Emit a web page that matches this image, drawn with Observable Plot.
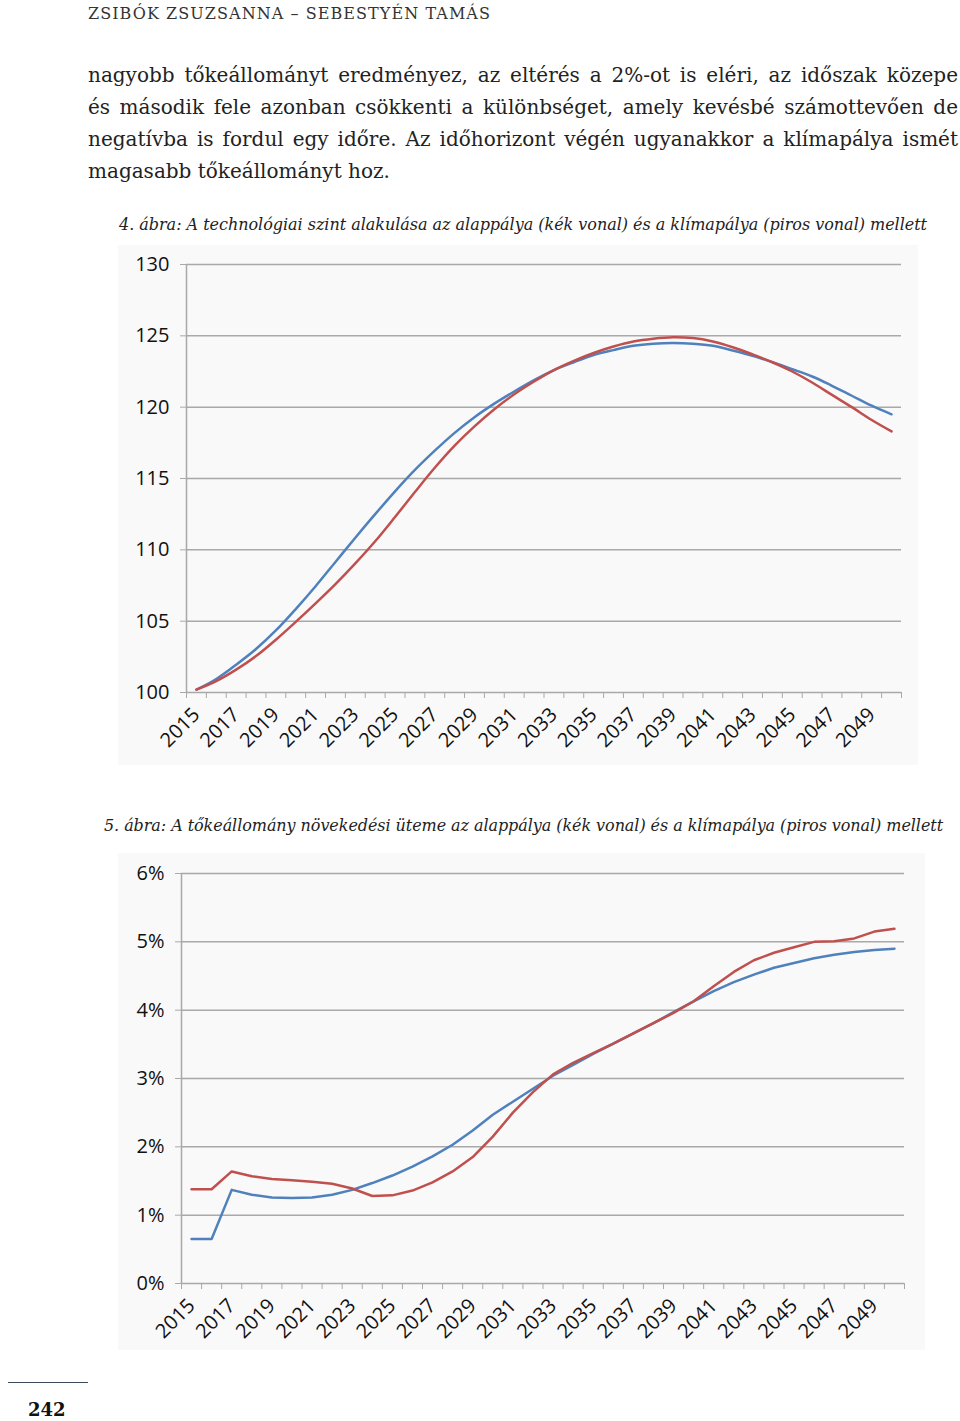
<!DOCTYPE html>
<html>
<head>
<meta charset="utf-8">
<script src="https://cdn.jsdelivr.net/npm/d3@7"></script>
<script src="https://cdn.jsdelivr.net/npm/@observablehq/plot@0.6"></script>
<style>
  html, body { margin: 0; padding: 0; background: #fff; }
  body { position: relative; width: 960px; height: 1421px; overflow: hidden; font-family: "DejaVu Serif", serif; color: #222; }
  .abs { position: absolute; white-space: nowrap; }
  .header { left: 88px; top: 4px; font-size: 16px; line-height: 20px; letter-spacing: 0.8px; color: #333; }
  .body { left: 88px; font-size: 20px; line-height: 32px; color: #222; }
  .cap { font-size: 16px; font-style: italic; line-height: 20px; color: #222; }
  .chart { position: absolute; }
  .pgline { position: absolute; left: 8px; top: 1382px; width: 80px; height: 0; border-top: 1.5px solid #3d4a5c; }
  .pgnum { position: absolute; left: 28px; top: 1399px; font-size: 18px; font-weight: bold; line-height: 22px; color: #111; }
</style>
</head>
<body>
<div class="abs header" id="hdr">ZSIBÓK ZSUZSANNA – SEBESTYÉN TAMÁS</div>
<div class="abs body fitw" data-w="870" style="top:59px">nagyobb tőkeállományt eredményez, az eltérés a 2%-ot is eléri, az időszak közepe</div>
<div class="abs body fitw" data-w="870" style="top:91px">és második fele azonban csökkenti a különbséget, amely kevésbé számottevően de</div>
<div class="abs body fitw" data-w="870" style="top:123px">negatívba is fordul egy időre. Az időhorizont végén ugyanakkor a klímapálya ismét</div>
<div class="abs body" style="top:155px">magasabb tőkeállományt hoz.</div>
<div class="abs cap fitl" data-w="808" style="left:119px; top:215px">4. ábra: A technológiai szint alakulása az alappálya (kék vonal) és a klímapálya (piros vonal) mellett</div>
<div class="chart" id="c1" style="left:118px; top:245px"></div>
<div class="abs cap fitl" data-w="839" style="left:104px; top:816px">5. ábra: A tőkeállomány növekedési üteme az alappálya (kék vonal) és a klímapálya (piros vonal) mellett</div>
<div class="chart" id="c2" style="left:118px; top:853px"></div>
<div class="pgline"></div>
<div class="pgnum">242</div>
<script>
// ---- data ----
const years = [2015,2016,2017,2018,2019,2020,2021,2022,2023,2024,2025,2026,2027,2028,2029,2030,2031,2032,
               2033,2034,2035,2036,2037,2038,2039,2040,2041,2042,2043,2044,2045,2046,2047,2048,2049,2050];
const yearLabels = [2015,2017,2019,2021,2023,2025,2027,2029,2031,2033,2035,2037,2039,2041,2043,2045,2047,2049];

// 4. ábra: technológiai szint
const techBase = [100.2,100.95,101.95,103.05,104.35,105.85,107.45,109.15,110.85,112.5,114.1,115.6,116.95,118.2,119.3,120.25,121.1,121.9,
                  122.6,123.15,123.65,124.0,124.3,124.45,124.5,124.45,124.3,123.97,123.6,123.15,122.66,122.15,121.5,120.8,120.1,119.5];
const techClimate = [100.2,100.8,101.6,102.55,103.7,104.95,106.25,107.6,109.05,110.6,112.3,114.05,115.75,117.3,118.65,119.85,120.9,121.8,
                     122.6,123.25,123.8,124.25,124.6,124.8,124.9,124.84,124.6,124.2,123.7,123.15,122.5,121.73,120.86,120.0,119.1,118.3];
const techTicks = [100,105,110,115,120,125,130];

// 5. ábra: tőkeállomány növekedési üteme (%)
const growthBase = [0.65,0.65,1.37,1.30,1.26,1.25,1.26,1.30,1.37,1.47,1.58,1.71,1.86,2.03,2.24,2.47,2.66,2.85,
                    3.04,3.20,3.36,3.51,3.66,3.81,3.97,4.13,4.28,4.41,4.52,4.62,4.69,4.76,4.81,4.85,4.88,4.90];
const growthClimate = [1.38,1.38,1.64,1.57,1.53,1.51,1.49,1.46,1.39,1.28,1.29,1.36,1.48,1.64,1.85,2.15,2.50,2.80,
                       3.06,3.23,3.37,3.51,3.66,3.81,3.96,4.13,4.35,4.56,4.73,4.84,4.92,5.00,5.01,5.05,5.15,5.19];
const growthTicks = [0,1,2,3,4,5,6];

const BLUE = "#4f81bd", RED = "#c0504d", GRID = "#a9a9a9";

const bounds = years.map(y => y - 0.5).concat([years[years.length - 1] + 0.5]);
const xDomain = [bounds[0], bounds[bounds.length - 1]];

function makeChart(opts) {
  const rows = years.map((y, i) => ({year: y, base: opts.base[i], climate: opts.climate[i]}));
  return Plot.plot({
    width: opts.width, height: opts.height,
    marginLeft: opts.ml, marginRight: opts.mr, marginTop: opts.mt, marginBottom: opts.mb,
    style: {background: "#f9f9f9", fontFamily: "'Open Sans', sans-serif", fontSize: "20px", color: "#111", overflow: "visible"},
    x: {type: "linear", domain: xDomain, label: null},
    y: {domain: opts.ydomain, label: null},
    marks: [
      Plot.ruleY(opts.ticks, {stroke: GRID, strokeWidth: 1.5}),
      Plot.ruleX([xDomain[0]], {stroke: GRID, strokeWidth: 1.5}),
      Plot.axisY({ticks: opts.ticks, tickSize: 6, tickPadding: 11, stroke: GRID, tickFormat: opts.fmt, label: null, fill: "#111"}),
      Plot.axisX({ticks: bounds, tickSize: 6, text: null, stroke: GRID, label: null}),
      Plot.axisX({ticks: yearLabels, tickSize: 0, tickRotate: -45, tickPadding: 19, tickFormat: d => String(d), label: null, fill: "#111"}),
      Plot.line(rows, {x: "year", y: "base", stroke: BLUE, strokeWidth: 2.5, curve: opts.curve}),
      Plot.line(rows, {x: "year", y: "climate", stroke: RED, strokeWidth: 2.5, curve: opts.curve})
    ]
  });
}

document.getElementById("c1").appendChild(makeChart({
  base: techBase, climate: techClimate, ticks: techTicks, ydomain: [100, 130], fmt: d => String(d),
  width: 800, height: 520, ml: 68, mr: 17, mt: 19, mb: 73, curve: "catmull-rom"
}));
document.getElementById("c2").appendChild(makeChart({
  base: growthBase, climate: growthClimate, ticks: growthTicks, ydomain: [0, 6], fmt: d => d + "%",
  width: 807, height: 497, ml: 63, mr: 21, mt: 20, mb: 67, curve: "linear"
}));

// fit text widths
document.querySelectorAll(".fitw").forEach(el => {
  const target = +el.dataset.w;
  const w = el.getBoundingClientRect().width;
  const spaces = (el.textContent.match(/ /g) || []).length;
  if (spaces) el.style.wordSpacing = ((target - w) / spaces) + "px";
});
document.querySelectorAll(".fitl").forEach(el => {
  const target = +el.dataset.w;
  const w = el.getBoundingClientRect().width;
  const n = el.textContent.length;
  el.style.letterSpacing = ((target - w) / n) + "px";
});
(function() {
  const el = document.getElementById("hdr");
  const w = el.getBoundingClientRect().width;
  const n = el.textContent.length;
  const cur = 0.8;
  el.style.letterSpacing = (cur + (403 - w) / n) + "px";
})();
</script>
</body>
</html>
